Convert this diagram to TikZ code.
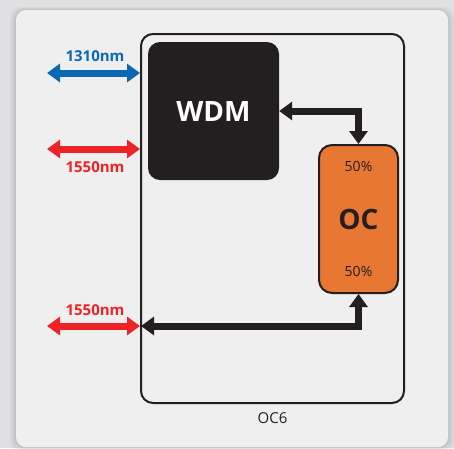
\documentclass[tikz,border=0pt]{standalone}
\usepackage{fontspec}
\setmainfont{Open Sans}
\usetikzlibrary{arrows.meta}
\definecolor{bgc}{HTML}{E0E0E3}
\definecolor{panelc}{HTML}{EFEFEF}
\definecolor{ink}{HTML}{231F20}
\definecolor{blu}{HTML}{0B69B3}
\definecolor{rd}{HTML}{EE2328}
\definecolor{org}{HTML}{E87733}
\tikzset{
  fiber/.style={line width=7pt, line join=miter, {Triangle[length=13pt,width=18pt]}-{Triangle[length=13pt,width=18pt]}},
  blackfiber/.style={fiber, draw=ink},
  lbl/.style={font=\bfseries\fontsize{15}{15}\selectfont, inner sep=0pt},
  pct/.style={font=\fontsize{14}{14}\selectfont, text=ink, inner sep=0pt},
}
\begin{document}
\begin{tikzpicture}[x=1pt,y=-1pt]
\useasboundingbox (0,0) rectangle (454,448);
\fill[bgc] (0,0) rectangle (454,448);
% soft shadow of panel
\foreach \o/\a in {6/0.03,4/0.04,2/0.05}{
  \fill[black,opacity=\a,rounded corners=12pt] (16-\o,10-\o/2) rectangle (448+\o,447+\o);
}
\fill[panelc,rounded corners=10pt] (16,10) rectangle (448,447);
% OC6 frame
\node[draw=ink, line width=2pt, rounded corners=12pt, minimum width=263pt, minimum height=369pt, inner sep=0pt] (frame) at (272.5,218.5) {};
\node[text=ink, font=\fontsize{15}{15}\selectfont, inner sep=0pt] (oc6) at (272.5,418) {OC6};
% WDM
\node[fill=ink, rounded corners=12pt, minimum width=131pt, minimum height=138pt, inner sep=0pt,
      text=white, font=\bfseries\fontsize{28}{28}\selectfont] (wdm) at (213.5,111) {WDM};
% OC
\node[fill=org, draw=ink, line width=2pt, rounded corners=13pt, minimum width=79pt, minimum height=148pt, inner sep=0pt,
      text=ink, font=\bfseries\fontsize{28}{28}\selectfont] (oc) at (358.5,219) {OC};
\node[pct] (p1) at (358.5,166) {50\%};
\node[pct] (p2) at (358.5,271) {50\%};
% internal connectors
\draw[blackfiber] (wdm.east) -| (oc.north);
\coordinate (in3) at (141,326);
\draw[blackfiber] (in3) -| (oc.south);
% external ports
\coordinate (a1) at (47,73);  \coordinate (b1) at (140,73);
\coordinate (a2) at (47,149); \coordinate (b2) at (140,149);
\coordinate (a3) at (47,326); \coordinate (b3) at (140,326);
\draw[fiber, draw=blu] (a1) -- (b1);
\draw[fiber, draw=rd] (a2) -- (b2);
\draw[fiber, draw=rd] (a3) -- (b3);
\node[lbl, text=blu] (t1) at (95,56) {1310nm};
\node[lbl, text=rd] (t2) at (95,167) {1550nm};
\node[lbl, text=rd] (t3) at (95,310) {1550nm};
\end{tikzpicture}
\end{document}
